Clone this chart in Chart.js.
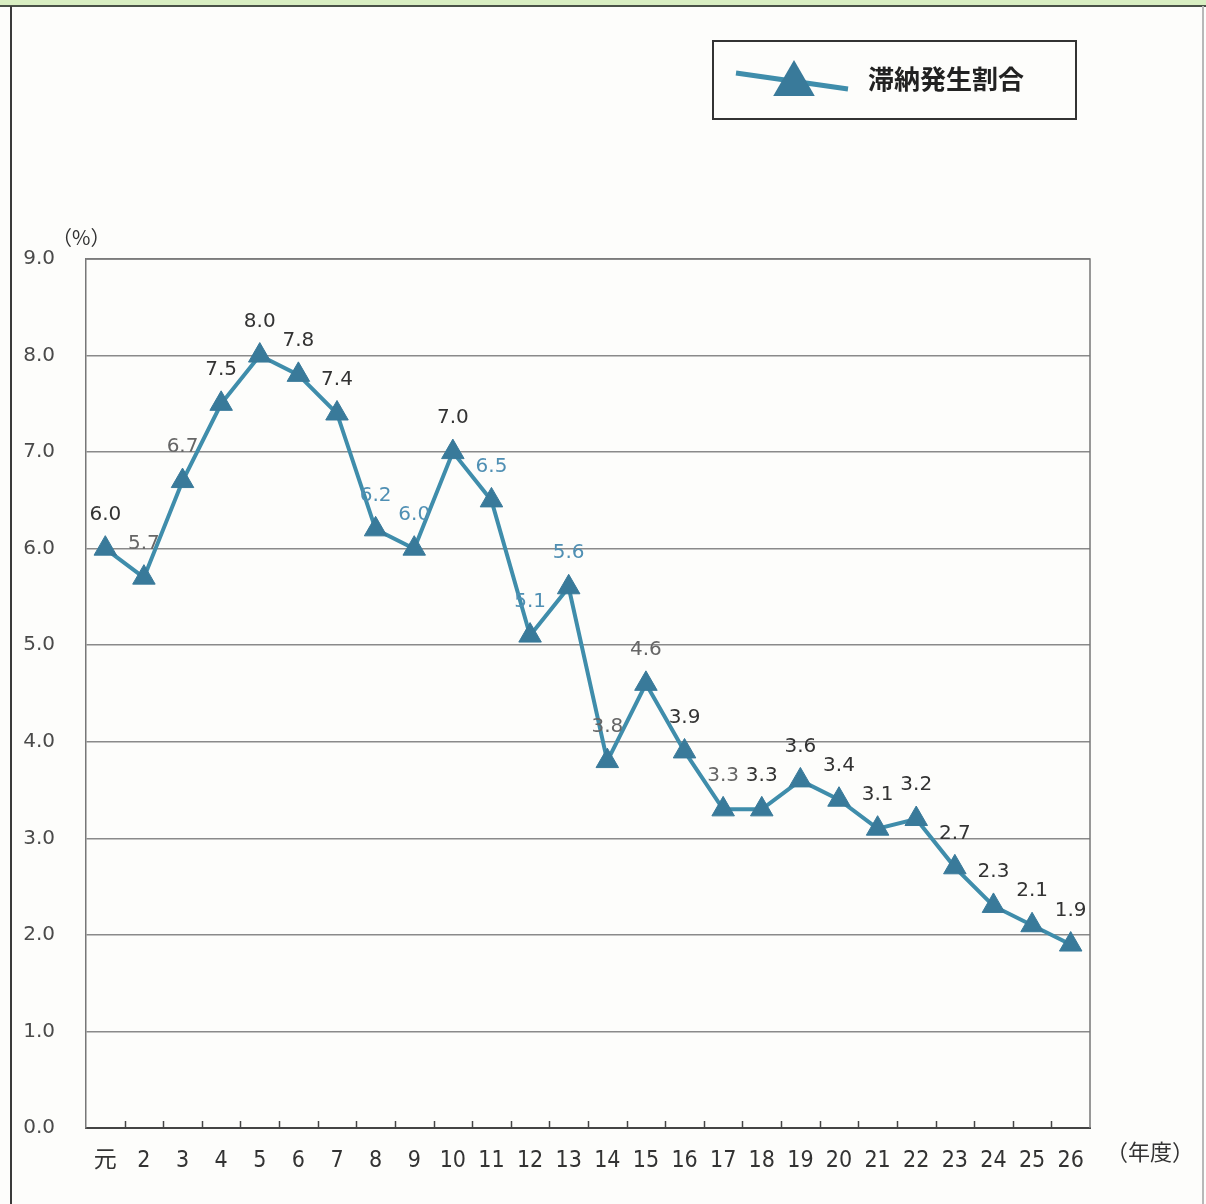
<!DOCTYPE html>
<html lang="ja">
<head>
<meta charset="utf-8">
<title>滞納発生割合</title>
<script src="https://cdn.jsdelivr.net/npm/chart.js@4/dist/chart.umd.min.js"></script>
<style>
  html, body { margin: 0; padding: 0; background: #fdfdfb; }
  #wrap { width: 1206px; height: 1204px; }
</style>
</head>
<body>
<div id="wrap"><canvas id="grafico" width="1206" height="1204"></canvas></div>
<script>
// 年度 (平成)
const nendo = ['元', '2', '3', '4', '5', '6', '7', '8', '9', '10', '11', '12', '13',
  '14', '15', '16', '17', '18', '19', '20', '21', '22', '23', '24', '25', '26'];
// 滞納発生割合 (%)
const wariai = [6.0, 5.7, 6.7, 7.5, 8.0, 7.8, 7.4, 6.2, 6.0, 7.0, 6.5, 5.1, 5.6,
  3.8, 4.6, 3.9, 3.3, 3.3, 3.6, 3.4, 3.1, 3.2, 2.7, 2.3, 2.1, 1.9];
const yTicks = [0, 1, 2, 3, 4, 5, 6, 7, 8, 9];
const serieNome = '滞納発生割合';

const corLinha = '#3f8dab';
const corPonto = '#397a9a';
const corAzulTexto = '#4f8fb3';
const corEscura = '#333333';
// cor de cada rotulo (o original mistura preto e azul)
const corRotulos = wariai.map((v, i) => [7, 8, 10, 11, 12].includes(i) ? corAzulTexto :
  ([1, 2, 13, 14, 16].includes(i) ? '#666666' : corEscura));

const fonteNum = '"DejaVu Sans", "Liberation Sans", sans-serif';
const fonteJp = '"Noto Sans CJK JP", "Noto Sans", sans-serif';

// moldura da pagina, faixa verde no topo
const moldura = {
  id: 'moldura',
  beforeDraw(chart) {
    const ctx = chart.ctx;
    ctx.save();
    ctx.fillStyle = '#fdfdfb';
    ctx.fillRect(0, 0, chart.width, chart.height);
    ctx.fillStyle = '#d9efc2';
    ctx.fillRect(0, 0, chart.width, 6);
    ctx.fillStyle = '#4a5248';
    ctx.fillRect(0, 5, chart.width, 2);
    ctx.fillStyle = '#3a3a3a';
    ctx.fillRect(10, 6, 2, chart.height);
    ctx.fillStyle = '#b8b8b8';
    ctx.fillRect(1202, 6, 2, chart.height);
    ctx.restore();
  }
};

// borda da area do grafico + tracinhos entre categorias + textos de unidade
const extras = {
  id: 'extras',
  afterDraw(chart) {
    const ctx = chart.ctx;
    const a = chart.chartArea;
    const x = chart.scales.x;
    ctx.save();
    ctx.strokeStyle = '#777';
    ctx.lineWidth = 1.5;
    ctx.beginPath();
    ctx.moveTo(a.left, a.top);
    ctx.lineTo(a.right, a.top);
    ctx.lineTo(a.right, a.bottom);
    ctx.stroke();

    ctx.strokeStyle = '#444';
    ctx.lineWidth = 1.5;
    const meio = (x.getPixelForValue(1) - x.getPixelForValue(0)) / 2;
    for (let i = 0; i < nendo.length - 1; i++) {
      const px = Math.round(x.getPixelForValue(i) + meio) + 0.5;
      ctx.beginPath();
      ctx.moveTo(px, a.bottom);
      ctx.lineTo(px, a.bottom - 7);
      ctx.stroke();
    }

    ctx.fillStyle = corEscura;
    ctx.textBaseline = 'middle';
    ctx.textAlign = 'left';
    ctx.font = '20px ' + fonteJp;
    ctx.fillText('（%）', 52, 237);
    ctx.font = '22px ' + fonteJp;
    ctx.fillText('（年度）', 1106, 1152);

    // rotulos dos valores
    const meta = chart.getDatasetMeta(0);
    ctx.font = '20px ' + fonteNum;
    ctx.textAlign = 'center';
    meta.data.forEach((p, i) => {
      ctx.fillStyle = corRotulos[i];
      ctx.fillText(wariai[i].toFixed(1), p.x, p.y - 34);
    });

    // legenda com caixa
    ctx.strokeStyle = '#333';
    ctx.lineWidth = 2;
    ctx.strokeRect(713, 41, 363, 78);
    ctx.strokeStyle = corLinha;
    ctx.lineWidth = 5;
    ctx.beginPath();
    ctx.moveTo(736, 73);
    ctx.lineTo(848, 89);
    ctx.stroke();
    ctx.fillStyle = corPonto;
    Chart.helpers.drawPoint(ctx, { pointStyle: 'triangle', radius: 24, rotation: 0, borderWidth: 0 }, 794, 84);
    ctx.fillStyle = '#222';
    ctx.textAlign = 'left';
    ctx.font = 'bold 26px ' + fonteJp;
    ctx.fillText(serieNome, 868, 79);
    ctx.restore();
  }
};

new Chart(document.getElementById('grafico'), {
  type: 'line',
  data: {
    labels: nendo,
    datasets: [{
      label: serieNome,
      data: wariai,
      borderColor: corLinha,
      borderWidth: 4,
      pointStyle: 'triangle',
      pointRadius: 13,
      pointHoverRadius: 13,
      pointBackgroundColor: corPonto,
      pointBorderColor: corPonto,
      pointBorderWidth: 1,
      tension: 0,
      fill: false
    }]
  },
  options: {
    responsive: false,
    animation: false,
    devicePixelRatio: 1,
    layout: { padding: { left: 0, right: 116, top: 259, bottom: 0 } },
    plugins: {
      legend: { display: false },
      tooltip: { enabled: false }
    },
    scales: {
      x: {
        offset: true,
        grid: { display: false, drawTicks: false },
        border: { display: true, color: '#444', width: 2 },
        ticks: {
          color: corEscura,
          padding: 19,
          maxRotation: 0,
          autoSkip: false,
          font: { size: 23, family: '"Liberation Sans Narrow", "DejaVu Sans Condensed", ' + fonteJp }
        },
        afterFit(s) { s.height = 76; }
      },
      y: {
        min: 0,
        max: 9,
        afterBuildTicks(s) { s.ticks = yTicks.map(v => ({ value: v })); },
        grid: { color: '#8a8a8a', lineWidth: 1.5, drawTicks: false },
        border: { display: true, color: '#777', width: 1.5 },
        ticks: {
          color: '#4a4a4a',
          padding: 31,
          font: { size: 20, family: fonteNum },
          callback: v => Number(v).toFixed(1)
        },
        afterFit(s) { s.width = 86; }
      }
    }
  },
  plugins: [moldura, extras]
});
</script>
</body>
</html>
